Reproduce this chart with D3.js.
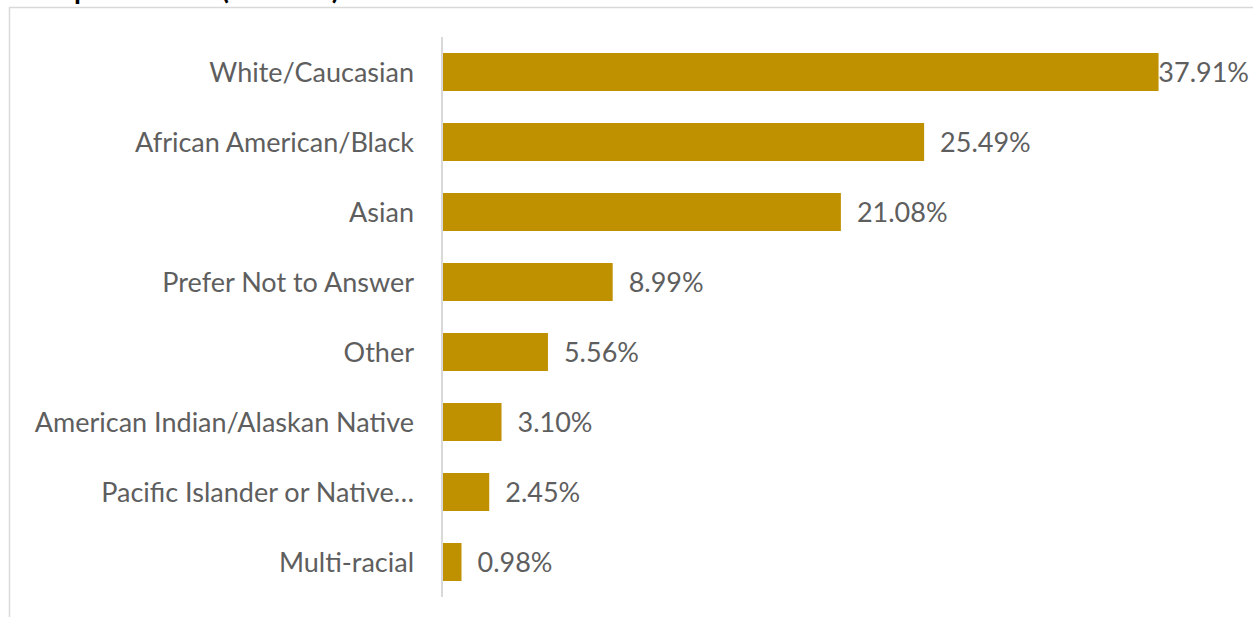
<!DOCTYPE html>
<html>
<head>
<meta charset="utf-8">
<script src="https://cdn.jsdelivr.net/npm/d3@7"></script>
<style>
    body { margin: 0; background: #fff; }
    svg { display: block; font-family: "Lato", "Open Sans", sans-serif; }
</style>
</head>
<body>
<svg id="chart" width="1253" height="617"></svg>
<script>
"use strict";

var categories = [
    "White/Caucasian",
    "African American/Black",
    "Asian",
    "Prefer Not to Answer",
    "Other",
    "American Indian/Alaskan Native",
    "Pacific Islander or Native…",
    "Multi-racial"
];
var values = [37.91, 25.49, 21.08, 8.99, 5.56, 3.10, 2.45, 0.98];
var titleText = "Group Identities (N=1020)";

(function () {
    var svg = d3.select("#chart"),
        W = 1253,
        barColor = "#BF9000",
        textColor = "#5E5E5E",
        gridColor = "#D9D9D9",
        fontSize = 27,
        x,
        y;

    // title sits mostly above the visible area, only descenders show
    svg.append("text")
        .attr("x", 12)
        .attr("y", -1)
        .attr("font-size", 28)
        .attr("font-weight", "bold")
        .attr("fill", "#000")
        .text(titleText);

    // frame (top + left edges are what show)
    svg.append("path")
        .attr("d", "M9.5,617V7.5H1253")
        .attr("fill", "none")
        .attr("stroke", gridColor)
        .attr("stroke-width", 1.5);

    x = d3.scaleLinear().domain([0, 40]).range([443, 443 + 755]);
    y = d3.scaleBand().domain(categories).range([37, 597]).paddingInner(0.457).paddingOuter(0.2285);

    svg.selectAll("rect.bar")
        .data(values)
        .enter().append("rect")
        .attr("class", "bar")
        .attr("x", x(0))
        .attr("y", function (d, i) { return y(categories[i]); })
        .attr("width", function (d) { return x(d) - x(0); })
        .attr("height", y.bandwidth())
        .attr("fill", barColor);

    // vertical axis line
    svg.append("line")
        .attr("x1", x(0) - 1).attr("x2", x(0) - 1)
        .attr("y1", 37).attr("y2", 597)
        .attr("stroke", gridColor)
        .attr("stroke-width", 2);

    svg.selectAll("text.cat")
        .data(categories)
        .enter().append("text")
        .attr("class", "cat")
        .attr("x", 414)
        .attr("y", function (d) { return y(d) + y.bandwidth() / 2; })
        .attr("dy", "0.36em")
        .attr("text-anchor", "end")
        .attr("font-size", fontSize)
        .attr("fill", textColor)
        .text(function (d) { return d; });

    svg.selectAll("text.val")
        .data(values)
        .enter().append("text")
        .attr("class", "val")
        .attr("y", function (d, i) { return y(categories[i]) + y.bandwidth() / 2; })
        .attr("dy", "0.36em")
        .attr("font-size", fontSize)
        .attr("fill", textColor)
        .text(function (d) { return d.toFixed(2) + "%"; })
        .attr("x", function (d) {
            var w = this.getComputedTextLength();
            return Math.min(x(d) + 16, W - 4 - w);
        });
}());
</script>
</body>
</html>
